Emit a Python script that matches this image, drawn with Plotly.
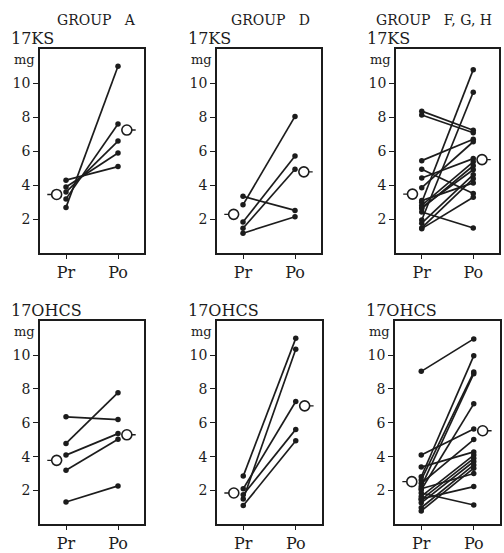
import plotly.graph_objects as go

# ---------------- data ----------------
categories = ["Pr", "Po"]
y_ticks = [2, 4, 6, 8, 10]
col_titles = ["GROUP\u00a0\u00a0\u00a0A", "GROUP\u00a0\u00a0\u00a0D", "GROUP\u00a0\u00a0\u00a0F, G, H"]
row_titles = ["17KS", "17OHCS"]
unit = "mg"

# 17KS
ks_a_pr = [4.3, 3.9, 3.6, 3.2, 2.7]
ks_a_po = [5.1, 5.9, 6.6, 7.6, 11.0]
ks_a_mean = [3.46, 7.25]

ks_d_pr = [3.35, 2.85, 1.84, 1.47, 1.18]
ks_d_po = [2.52, 8.05, 5.72, 4.94, 2.15]
ks_d_mean = [2.29, 4.79]

ks_f_pr = [8.36, 8.13, 5.45, 4.94, 4.43, 3.86, 3.0, 2.82, 2.63, 2.43, 2.7, 1.96, 1.77, 1.49, 1.45, 3.1]
ks_f_po = [7.24, 7.09, 6.71, 3.52, 5.57, 6.56, 10.8, 5.38, 5.15, 1.49, 4.91, 9.47, 4.62, 4.39, 3.29, 4.14]
ks_f_mean = [3.48, 5.51]

# 17OHCS
oh_a_pr = [6.35, 4.78, 4.09, 3.2, 1.32]
oh_a_po = [6.19, 7.78, 5.36, 5.03, 2.27]
oh_a_mean = [3.78, 5.29]

oh_d_pr = [2.85, 1.5, 2.1, 1.75, 1.11]
oh_d_po = [10.99, 10.35, 7.26, 5.61, 4.94]
oh_d_mean = [1.85, 7.0]

oh_f_pr = [9.04, 4.09, 3.38, 2.81, 2.62, 2.42, 2.23, 2.04, 1.85, 2.1, 1.65, 1.46, 1.27, 0.98, 0.79, 1.5]
oh_f_po = [10.96, 5.63, 4.28, 9.96, 9.0, 5.01, 8.9, 7.12, 1.14, 3.0, 4.09, 3.9, 3.71, 3.51, 3.32, 2.23]
oh_f_mean = [2.52, 5.53]

panels = [
    [(ks_a_pr, ks_a_po, ks_a_mean), (ks_d_pr, ks_d_po, ks_d_mean), (ks_f_pr, ks_f_po, ks_f_mean)],
    [(oh_a_pr, oh_a_po, oh_a_mean), (oh_d_pr, oh_d_po, oh_d_mean), (oh_f_pr, oh_f_po, oh_f_mean)],
]

# ---------------- layout (pixels) ----------------
W, H = 504, 553
col_x = [[(40, 144), (217, 321), (396, 499)],
         [(40, 144), (217, 322), (395, 500)]]
row_y = [(50, 257), (326, 532)]
title_cx = [96, 270, 434]
INK = "#1c1c1c"
FONT = "DejaVu Serif"

fig = go.Figure()
annotations = []
idx = 0
for r in range(2):
    for c in range(3):
        idx += 1
        xa = "x" if idx == 1 else f"x{idx}"
        ya = "y" if idx == 1 else f"y{idx}"
        pr, po, mean = panels[r][c]
        xs, ys = [], []
        for a, b in zip(pr, po):
            xs += [0, 1, None]
            ys += [a, b, None]
        fig.add_trace(go.Scatter(
            x=xs, y=ys, mode="lines+markers", xaxis=xa, yaxis=ya,
            line=dict(color=INK, width=1.7),
            marker=dict(color=INK, size=5.5), showlegend=False, hoverinfo="skip"))
        # mean dashes
        fig.add_trace(go.Scatter(
            x=[-0.36, -0.18, None, 1.17, 1.34],
            y=[mean[0], mean[0], None, mean[1], mean[1]],
            mode="lines", xaxis=xa, yaxis=ya,
            line=dict(color=INK, width=1.4), showlegend=False, hoverinfo="skip"))
        fig.add_trace(go.Scatter(
            x=[-0.18, 1.17], y=mean, mode="markers", xaxis=xa, yaxis=ya,
            marker=dict(color="white", size=10, line=dict(color=INK, width=1.6)),
            showlegend=False, hoverinfo="skip", cliponaxis=False))

        x0, x1 = col_x[r][c]
        y0, y1 = row_y[r]
        dom_x = [x0 / W, x1 / W]
        dom_y = [1 - y1 / H, 1 - y0 / H]
        fig.layout[("xaxis" if idx == 1 else f"xaxis{idx}")] = dict(
            domain=dom_x, range=[-0.5, 1.5], tickvals=[0, 1], ticktext=categories,
            showgrid=False, zeroline=False, showline=True, mirror=True,
            linecolor=INK, linewidth=1.5, ticks="outside", ticklen=4, tickcolor=INK,
            tickfont=dict(family=FONT, size=16, color=INK), anchor=ya, fixedrange=True)
        fig.layout[("yaxis" if idx == 1 else f"yaxis{idx}")] = dict(
            domain=dom_y, range=[0, 12], tickvals=y_ticks,
            showgrid=False, zeroline=False, showline=True, mirror=True,
            linecolor=INK, linewidth=1.5, ticks="outside", ticklen=5, tickcolor=INK,
            tickfont=dict(family=FONT, size=14, color=INK), anchor=xa, fixedrange=True)

        # row label and unit
        annotations.append(dict(
            x=(x0 - 31) / W, y=1 - (y0 - 11) / H, xref="paper", yref="paper",
            text=row_titles[r], showarrow=False, xanchor="left", yanchor="middle",
            font=dict(family=FONT, size=16, color=INK)))
        annotations.append(dict(
            x=(x0 - 3) / W, y=1 - (y0 + 10) / H, xref="paper", yref="paper",
            text=unit, showarrow=False, xanchor="right", yanchor="middle",
            font=dict(family=FONT, size=13, color=INK)))
        if r == 0:
            annotations.append(dict(
                x=title_cx[c] / W, y=1 - 20 / H, xref="paper", yref="paper",
                text=col_titles[c], showarrow=False, xanchor="center", yanchor="middle",
                font=dict(family=FONT, size=14, color=INK)))

fig.update_layout(
    width=W, height=H, margin=dict(l=0, r=0, t=0, b=0),
    paper_bgcolor="white", plot_bgcolor="white",
    annotations=annotations, showlegend=False)

fig.write_html("out.html", config={"displayModeBar": False},
               post_script="document.body.style.margin='0';document.body.style.overflow='hidden';")
